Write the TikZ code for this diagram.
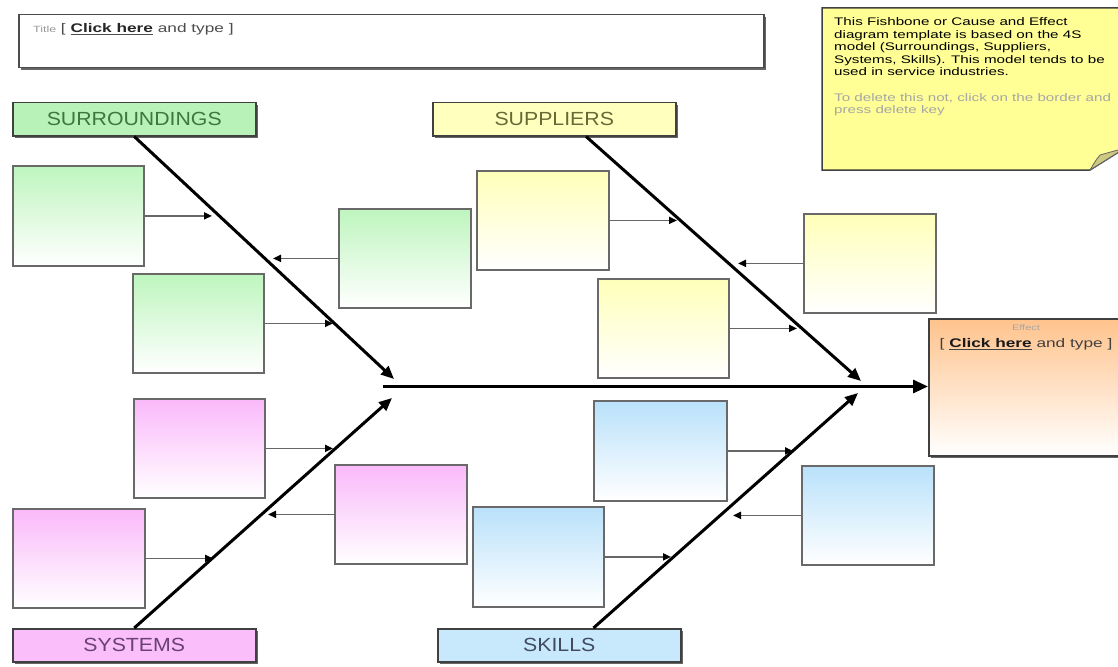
\documentclass[tikz,border=0pt]{standalone}
\usepackage{fontspec}
\setmainfont{Liberation Sans}
\usetikzlibrary{arrows.meta,shadows,calc}
\definecolor{gtop}{RGB}{190,245,190}
\definecolor{ytop}{RGB}{255,255,185}
\definecolor{ptop}{RGB}{250,185,250}
\definecolor{btop}{RGB}{185,225,250}
\definecolor{etop}{RGB}{255,195,140}
\definecolor{glab}{RGB}{185,242,185}
\definecolor{ylab}{RGB}{255,255,190}
\definecolor{plab}{RGB}{250,190,250}
\definecolor{blab}{RGB}{200,232,252}
\definecolor{gtxt}{RGB}{60,120,60}
\definecolor{ytxt}{RGB}{105,105,55}
\definecolor{ptxt}{RGB}{105,65,115}
\definecolor{btxt}{RGB}{65,75,95}
\definecolor{notefill}{RGB}{255,255,150}
\definecolor{foldfill}{RGB}{205,200,130}
\definecolor{boxgray}{RGB}{105,105,105}
\newcommand{\wx}[2][1.38]{\scalebox{#1}[1]{#2}}
\begin{document}
\begin{tikzpicture}[x=1pt,y=-1pt,
  cbox/.style={draw=boxgray, line width=1.8pt, inner sep=0pt, anchor=north west,
    minimum width=131pt, minimum height=99pt, bottom color=white},
  gbox/.style={cbox, top color=gtop},
  ybox/.style={cbox, top color=ytop},
  pbox/.style={cbox, top color=ptop},
  bbox/.style={cbox, top color=btop},
  shad/.style={drop shadow={shadow xshift=2.5pt, shadow yshift=-2.5pt, fill=black!60, opacity=1}},
  lab/.style={draw=black!75, line width=1.5pt, anchor=north west, minimum width=243pt,
    minimum height=33pt, inner sep=0pt, font=\fontsize{19}{22}\selectfont, shad},
  bone/.style={line width=3pt, -{Triangle[length=13pt,width=11pt]}},
  spine/.style={line width=3pt, -{Triangle[length=15pt,width=13pt]}},
  twig/.style={draw=black!60, line width=1.8pt, -{Triangle[length=8pt,width=7pt,color=black]}}
]
\useasboundingbox (0,0) rectangle (1118,666);

% title box
\node (title) [draw=black!70, line width=1.5pt, fill=white, anchor=north west,
  minimum width=745pt, minimum height=53pt, inner sep=0pt, shad] at (18,14) {};
\node (titletxt) [anchor=west, inner sep=0pt, font=\fontsize{12.5}{14}\selectfont, text=black!70] at (33,29)
  {\wx{{\color{black!40}\fontsize{9}{10}\selectfont Title} [ \underline{\textbf{\color{black!85}Click here}} and type ]}};

% note
\path[draw=black!75, line width=1.5pt, fill=notefill] (822,8) -- (1125,8) -- (1125,148) -- (1090,170) -- (822,170) -- cycle;
\path[draw=black!60, line width=0.8pt, fill=foldfill] (1090,170) .. controls (1096,160) .. (1100,155) -- (1125,148) -- cycle;
\node (note) [anchor=north west, inner sep=0pt, font=\fontsize{11}{12.5}\selectfont] at (834,17)
  {\wx{\begin{tabular}{@{}l@{}}
  This Fishbone or Cause and Effect\\
  diagram template is based on the 4S\\
  model (Surroundings, Suppliers,\\
  Systems, Skills). This model tends to be\\
  used in service industries.\\[13pt]
  {\color{black!35}To delete this not, click on the border and}\\
  {\color{black!35}press delete key}
  \end{tabular}}};

% effect
\node (eff) [draw=black!75, line width=1.5pt, anchor=north west, minimum width=196pt,
  minimum height=137pt, inner sep=0pt, top color=etop, bottom color=white, shad] at (928,318) {};
\node (efftxt) [anchor=north, inner sep=0pt, align=center, font=\fontsize{12.5}{17}\selectfont, text=black!75] at (1026,325)
  {\wx{{\color{black!35}\fontsize{8}{10}\selectfont Effect}}\\ \wx{[ \underline{\textbf{\color{black!90}Click here}} and type ]}};

% category labels
\node (sur) [lab, fill=glab, text=gtxt] at (12,102) {\wx[1.12]{SURROUNDINGS}};
\node (sup) [lab, fill=ylab, text=ytxt] at (432,102) {\wx[1.12]{SUPPLIERS}};
\node (sys) [lab, fill=plab, text=ptxt] at (12,628) {\wx[1.12]{SYSTEMS}};
\node (ski) [lab, fill=blab, text=btxt] at (437,628) {\wx[1.12]{SKILLS}};

% cause boxes
\node (g1) [gbox, minimum height=100pt] at (12,165) {};
\node (g2) [gbox] at (132,273) {};
\node (g3) [gbox, minimum width=132pt] at (338,208) {};
\node (y1) [ybox, minimum width=132pt] at (476,170) {};
\node (y2) [ybox] at (597,278) {};
\node (y3) [ybox, minimum width=132pt] at (803,213) {};
\node (p1) [pbox] at (133,398) {};
\node (p2) [pbox, minimum width=132pt] at (334,464) {};
\node (p3) [pbox, minimum width=132pt] at (12,508) {};
\node (b1) [bbox, minimum width=133pt, minimum height=100pt] at (593,400) {};
\node (b2) [bbox, minimum height=100pt] at (472,506) {};
\node (b3) [bbox, minimum width=132pt] at (801,465) {};

% bone coordinates
\coordinate (surEnd) at (394,379);
\coordinate (supEnd) at (861,381);
\coordinate (sysEnd) at (392,398);
\coordinate (skiEnd) at (858,393);
\coordinate (spineStart) at (383,386.5);
\coordinate (supStart) at ($(sup.south west)!0.63!(sup.south east)$);
\coordinate (skiStart) at ($(ski.north west)!0.64!(ski.north east)$);

\draw[bone] (sur.south) -- (surEnd);
\draw[bone] (supStart) -- (supEnd);
\draw[bone] (sys.north) -- (sysEnd);
\draw[bone] (skiStart) -- (skiEnd);
\draw[spine] (spineStart) -- (spineStart -| eff.west);

% twig tips
\coordinate (tg1) at (212,0);
\coordinate (tg2) at (333,0);
\coordinate (tg3) at (273,0);
\coordinate (ty1) at (677,0);
\coordinate (ty2) at (797,0);
\coordinate (ty3) at (738,0);
\coordinate (tp1) at (333,0);
\coordinate (tp2) at (268,0);
\coordinate (tp3) at (213,0);
\coordinate (tb1) at (793,0);
\coordinate (tb2) at (671,0);
\coordinate (tb3) at (733,0);

\draw[twig] (g1.east) -- (g1.east -| tg1);
\draw[twig] (g2.east) -- (g2.east -| tg2);
\draw[twig] (g3.west) -- (g3.west -| tg3);
\draw[twig] (y1.east) -- (y1.east -| ty1);
\draw[twig] (y2.east) -- (y2.east -| ty2);
\draw[twig] (y3.west) -- (y3.west -| ty3);
\draw[twig] (p1.east) -- (p1.east -| tp1);
\draw[twig] (p2.west) -- (p2.west -| tp2);
\draw[twig] (p3.east) -- (p3.east -| tp3);
\draw[twig] (b1.east) -- (b1.east -| tb1);
\draw[twig] (b2.east) -- (b2.east -| tb2);
\draw[twig] (b3.west) -- (b3.west -| tb3);
\end{tikzpicture}
\end{document}
